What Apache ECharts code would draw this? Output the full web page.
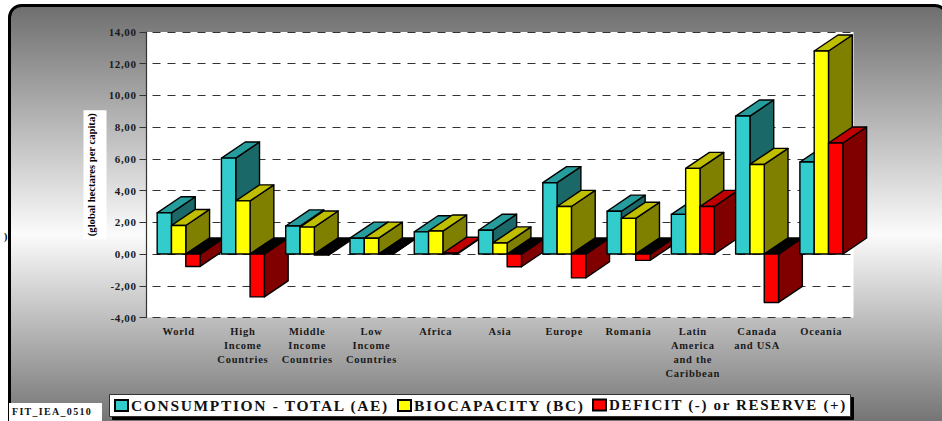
<!DOCTYPE html>
<html>
<head>
<meta charset="utf-8">
<title>Ecological footprint and biocapacity by region</title>
<style>
  html, body { margin: 0; padding: 0; background: #fff; }
  #chart { width: 942px; height: 421px; }
  /* letter spacing by text role, selected through the font size */
  #chart text[style*="15.5px"], #chart text[style*="15px"] { letter-spacing: 1.65px; }
  #chart text[style*="10.5px"] { letter-spacing: 0.75px; }
  #chart text[style*="11px"] { letter-spacing: 0.6px; }
  #chart text[style*="10px"] { letter-spacing: 1.3px; }
</style>
<script src="https://cdn.jsdelivr.net/npm/echarts@6/dist/echarts.min.js"></script>
</head>
<body>
<div id="chart"></div>
<script>
const categories = [
  'World', 'High\nIncome\nCountries', 'Middle\nIncome\nCountries', 'Low\nIncome\nCountries',
  'Africa', 'Asia', 'Europe', 'Romania', 'Latin\nAmerica\nand the\nCaribbean', 'Canada\nand USA', 'Oceania'
];
const consumption = [2.6, 6.05, 1.77, 1.0, 1.4, 1.5, 4.5, 2.7, 2.5, 8.7, 5.8];
const biocapacity = [1.8, 3.35, 1.7, 1.0, 1.45, 0.7, 3.0, 2.25, 5.4, 5.65, 12.8];
const balance = [-0.78, -2.7, -0.07, 0, 0.05, -0.8, -1.5, -0.4, 3.0, -3.05, 7.0];
const seriesNames = ['CONSUMPTION - TOTAL (AE)', 'BIOCAPACITY (BC)', 'DEFICIT (-) or RESERVE (+)'];
const axisTitle = '(global hectares per capita)';
const yTicks = { min: -4, max: 14, interval: 2 };

const FONT = '"Liberation Serif", serif';
const palette = [
  { front: '#33CCCC', top: '#269C9C', side: '#1A6868' },
  { front: '#FFFF00', top: '#BFBF00', side: '#808000' },
  { front: '#FF0000', top: '#C00000', side: '#800000' }
];
const BAR_SHARE = 0.2227;   // share of a category band taken by one bar
const DEPTH_X = 0.37;       // receding offset, as a share of the band
const DEPTH_Y = 0.25;

// Extruded bar: front face, top face and right side face.
function extrudedBar(seriesIndex) {
  return function (params, api) {
    const idx = api.value(0);
    const val = api.value(1);
    const zero = api.coord([idx, 0]);
    const end = api.coord([idx, val]);
    const band = api.size([1, 0])[0];
    const w = band * BAR_SHARE;
    const dx = band * DEPTH_X;
    const dy = band * DEPTH_Y;
    const x0 = zero[0] + (seriesIndex - 1.5) * w;
    const x1 = x0 + w;
    const yTop = Math.min(zero[1], end[1]);
    const yBot = Math.max(zero[1], end[1]);
    const c = palette[seriesIndex];
    const order = idx * 10 + seriesIndex;
    const line = { stroke: '#000', lineWidth: 1.4, lineJoin: 'round' };
    const poly = (pts, fill, z2) => ({
      type: 'polygon', z2: z2,
      shape: { points: pts },
      style: Object.assign({ fill: fill }, line)
    });
    return {
      type: 'group',
      children: [
        poly([[x1, yBot], [x1 + dx, yBot - dy], [x1 + dx, yTop - dy], [x1, yTop]], c.side, order),
        poly([[x0, yTop], [x0 + dx, yTop - dy], [x1 + dx, yTop - dy], [x1, yTop]], val > 0 ? c.top : '#000', order),
        poly([[x0, yTop], [x1, yTop], [x1, yBot], [x0, yBot]], c.front, order)
      ]
    };
  };
}

const valueSets = [consumption, biocapacity, balance];
const legendSlots = [114, 397, 592];
const legendFontSizes = [15.5, 15.5, 15];

const chart = echarts.init(document.getElementById('chart'), null, { renderer: 'svg' });
chart.setOption({
  animation: false,
  textStyle: { fontFamily: FONT },
  grid: {
    left: 146.5, right: 88.5, top: 32, bottom: 103.5,
    show: true, backgroundColor: '#fff', borderWidth: 0
  },
  xAxis: {
    type: 'category',
    data: categories,
    axisLine: { show: false },
    axisTick: { show: false },
    splitLine: { show: false },
    axisLabel: {
      interval: 0, margin: 7, lineHeight: 14,
      color: '#1a1a1a', fontFamily: FONT, fontWeight: 'bold', fontSize: 10.5
    }
  },
  yAxis: {
    type: 'value',
    min: yTicks.min, max: yTicks.max, interval: yTicks.interval,
    name: axisTitle,
    nameLocation: 'middle',
    nameRotate: 90,
    nameGap: 40,
    nameMoveOverlap: false,
    nameTextStyle: {
      color: '#000', fontFamily: FONT, fontWeight: 'bold', fontSize: 10.6,
      backgroundColor: '#fff', padding: [2, 3, 10, 3]
    },
    axisLine: { show: true, onZero: false, lineStyle: { color: '#333', width: 1.2 } },
    axisTick: { show: true, length: 7, lineStyle: { color: '#333' } },
    axisLabel: {
      margin: 10, color: '#1a1a1a', fontFamily: FONT, fontWeight: 'bold', fontSize: 11,
      formatter: v => v.toFixed(2).replace('.', ',')
    },
    splitLine: { show: true, lineStyle: { color: '#333', width: 1, type: [8, 7], dashOffset: 8.5 } }
  },
  legend: seriesNames.map((name, i) => ({
    data: [name],
    left: legendSlots[i], top: 397.5,
    padding: 0,
    itemWidth: 13, itemHeight: 11, itemGap: 0,
    icon: 'rect',
    z: 6,
    textStyle: {
      color: '#111', fontFamily: FONT, fontWeight: 'bold', fontSize: legendFontSizes[i],
      padding: [0, 0, 1, -2]
    }
  })),
  graphic: [
    {
      type: 'rect', z: -10, silent: true,
      shape: { x: 9.5, y: 5.5, width: 937.5, height: 440, r: 12 },
      style: {
        stroke: '#000', lineWidth: 3,
        fill: {
          type: 'linear', x: 0, y: 0, x2: 0, y2: 1, global: false,
          colorStops: [
            { offset: 0, color: '#6e6e6e' },
            { offset: 0.52, color: '#fbfbfb' },
            { offset: 0.96, color: '#707070' },
            { offset: 1, color: '#6a6a6a' }
          ]
        }
      }
    },
    {
      type: 'text', z: -5, silent: true, x: 4, y: 231,
      style: { text: ')', fill: '#000', font: 'bold 10px ' + FONT }
    },
    {
      type: 'rect', z: 5, silent: true,
      shape: { x: 109.5, y: 394.5, width: 741, height: 22 },
      style: { fill: '#fff', stroke: '#333', lineWidth: 1, shadowColor: '#000', shadowOffsetX: 3, shadowOffsetY: 3, shadowBlur: 0 }
    },
    {
      type: 'rect', z: 5, silent: true,
      shape: { x: 9, y: 403, width: 93, height: 18 },
      style: { fill: '#fff' }
    },
    {
      type: 'text', z: 6, silent: true, x: 12, y: 406,
      style: { text: 'FIT_IEA_0510', fill: '#111', font: 'bold 10px ' + FONT }
    }
  ],
  series: seriesNames.map((name, i) => ({
    name: name,
    type: 'custom',
    renderItem: extrudedBar(i),
    encode: { x: 0, y: 1 },
    data: valueSets[i].map((v, k) => [k, v]),
    itemStyle: { color: palette[i].front, borderColor: '#000', borderWidth: 1.4 },
    clip: false
  }))
});
</script>
</body>
</html>
